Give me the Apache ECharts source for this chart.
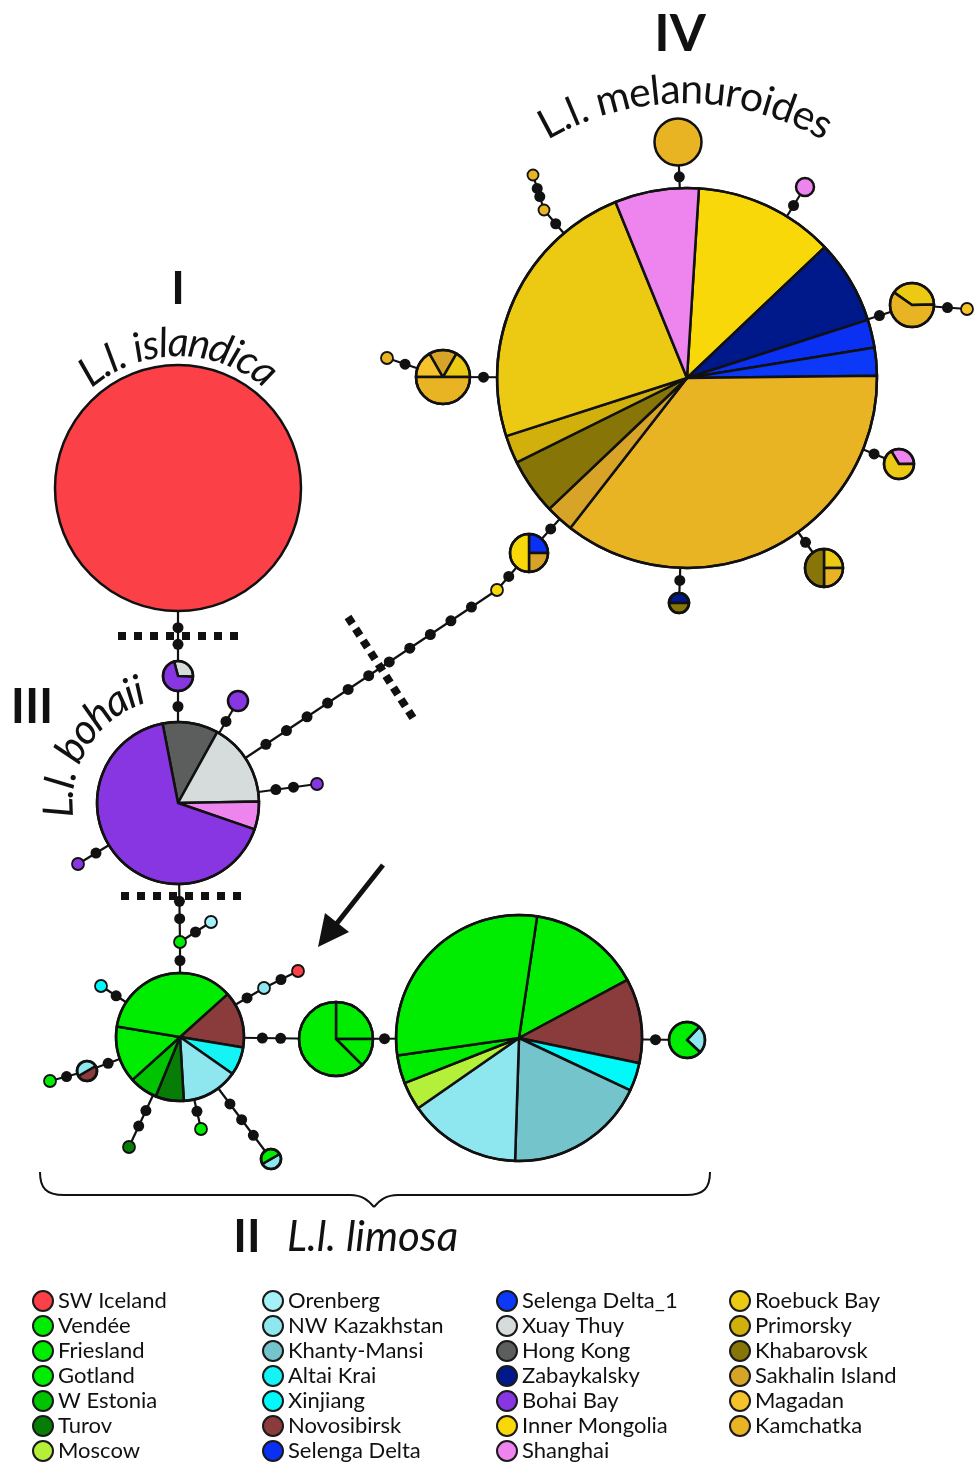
<!DOCTYPE html>
<html>
<head>
<meta charset="utf-8">
<script src="https://cdn.jsdelivr.net/npm/echarts@6/dist/echarts.min.js"></script>
<style>
  html, body { margin: 0; padding: 0; background: #ffffff; }
  #chart { width: 974px; height: 1464px; }
</style>
</head>
<body>
<div id="chart"></div>
<script>
// Sampling regions and their colours
const regions = [
  'SW Iceland', 'Vendée', 'Friesland', 'Gotland', 'W Estonia', 'Turov', 'Moscow',
  'Orenberg', 'NW Kazakhstan', 'Khanty-Mansi', 'Altai Krai', 'Xinjiang', 'Novosibirsk', 'Selenga Delta',
  'Selenga Delta_1', 'Xuay Thuy', 'Hong Kong', 'Zabaykalsky', 'Bohai Bay', 'Inner Mongolia', 'Shanghai',
  'Roebuck Bay', 'Primorsky', 'Khabarovsk', 'Sakhalin Island', 'Magadan', 'Kamchatka'
];
const regionColors = [
  '#fb4147', '#00ec00', '#00ec00', '#00ec00', '#00c400', '#077d07', '#b4f03a',
  '#a4f2f8', '#8ee6ee', '#74c4cc', '#14f4f4', '#00fafa', '#8a3c3c', '#0a30f4',
  '#0c38f8', '#d6dcdc', '#5c5e5e', '#00198a', '#8836e2', '#f8d808', '#ee84ee',
  '#ecca14', '#d2b00c', '#877507', '#d8a428', '#f6c22c', '#e8b424'
];

// Haplotype layout (network coordinates) and sizes
const nodeX = [178, 178, 178, 238, 317, 78, 180, 211, 180, 101, 264, 298, 87, 50, 129, 201, 271, 336, 519, 687,
               687, 678, 544, 533, 805, 912, 967, 899, 824, 679, 529, 497, 443, 387];
const nodeY = [488, 676, 803, 701, 784, 864, 942, 922, 1037, 986, 988, 971, 1071, 1081, 1147, 1129, 1159, 1039, 1038, 1040,
               378, 142, 210, 175, 187, 305, 309, 464, 568, 603, 553, 590, 377, 358];
const nodeRadius = [123, 15, 81, 10, 6, 6, 6, 6, 64, 6, 6, 6, 10, 6, 6, 6, 10, 37, 123, 18,
                    190, 23.5, 5.5, 5.5, 9, 22, 6, 15, 19, 10, 19, 6, 27, 6];
// first slice starts at this angle (degrees, clockwise from 12 o'clock)
const nodeStart = [0, -15, -11, 0, 0, 0, 0, 0, 48, 0, 0, 0, 60, 0, 0, 0, 60, 0, 8.5, 43,
                   3.6, 0, 0, 0, 0, 305, 0, -31, 0, -90, 0, 0, 270, 0];
// haplotype composition: [region index, individuals]
const nodeSlices = [
  [[0, 1]],
  [[15, 3], [18, 7]],
  [[16, 4], [15, 6], [20, 2], [18, 24]],
  [[18, 1]],
  [[18, 1]],
  [[18, 1]],
  [[1, 1]],
  [[7, 1]],
  [[12, 2], [10, 1], [8, 2], [5, 1], [4, 1], [2, 2], [1, 5]],
  [[11, 1]],
  [[8, 1]],
  [[0, 1]],
  [[12, 1], [8, 1]],
  [[1, 1]],
  [[5, 1]],
  [[3, 1]],
  [[8, 1], [1, 1]],
  [[1, 2], [2, 1], [3, 5]],
  [[1, 4], [12, 3], [11, 1], [9, 5], [8, 4], [6, 1], [3, 1], [2, 8]],
  [[8, 1], [1, 3]],
  [[19, 5], [17, 3], [13, 1], [14, 1], [26, 15], [24, 1], [23, 2], [22, 1], [21, 10], [20, 3]],
  [[26, 1]],
  [[26, 1]],
  [[26, 1]],
  [[20, 1]],
  [[21, 2], [26, 3]],
  [[25, 1]],
  [[20, 1], [21, 2]],
  [[21, 1], [26, 1], [23, 2]],
  [[17, 1], [23, 1]],
  [[13, 1], [24, 1], [19, 2]],
  [[19, 1]],
  [[25, 1], [24, 1], [21, 1], [26, 3]],
  [[26, 1]]
];
// network edges: [from, to, missing (median) haplotypes]
const links = [
  [0, 1, 2], [1, 2, 1], [2, 3, 1], [2, 4, 2], [2, 5, 1], [2, 31, 11], [31, 30, 1], [30, 20, 1],
  [2, 6, 2], [6, 7, 1], [6, 8, 1], [8, 9, 1], [8, 10, 1], [10, 11, 1], [8, 12, 1], [12, 13, 1],
  [8, 14, 2], [8, 15, 1], [8, 16, 3], [8, 17, 2], [17, 18, 1], [18, 19, 1],
  [20, 21, 1], [20, 22, 1], [22, 23, 2], [20, 24, 1], [20, 25, 1], [25, 26, 1], [20, 27, 1],
  [20, 28, 1], [20, 29, 1], [20, 32, 1], [32, 33, 1]
];
const legendColumns = [[0, 7], [7, 14], [14, 21], [21, 27]];

const FONT = 'Lato';
const INK = '#111111';
const rad = d => d * Math.PI / 180;

function renderLink(params, api) {
  const k = api.value(2);
  const [a, b, n] = links[k];
  const pa = api.coord([nodeX[a], nodeY[a]]);
  const pb = api.coord([nodeX[b], nodeY[b]]);
  const ra = api.size([nodeRadius[a], 0])[0];
  const rb = api.size([nodeRadius[b], 0])[0];
  const dx = pb[0] - pa[0], dy = pb[1] - pa[1];
  const d = Math.hypot(dx, dy);
  const ux = dx / d, uy = dy / d;
  const children = [{
    type: 'line',
    shape: { x1: pa[0], y1: pa[1], x2: pb[0], y2: pb[1] },
    style: { stroke: INK, lineWidth: 2.2 }
  }];
  const gap = d - ra - rb;
  for (let j = 1; j <= n; j++) {
    const t = ra + gap * j / (n + 1);
    children.push({
      type: 'circle',
      shape: { cx: pa[0] + ux * t, cy: pa[1] + uy * t, r: 5.5 },
      style: { fill: INK }
    });
  }
  return { type: 'group', children };
}

function renderNode(params, api) {
  const i = api.value(2);
  const c = api.coord([nodeX[i], nodeY[i]]);
  const r = api.size([nodeRadius[i], 0])[0];
  const slices = nodeSlices[i];
  const lw = r > 8 ? 2.5 : 1.8;
  const children = [];
  if (slices.length === 1) {
    children.push({
      type: 'circle',
      shape: { cx: c[0], cy: c[1], r },
      style: { fill: regionColors[slices[0][0]], stroke: INK, lineWidth: lw }
    });
  } else {
    const total = slices.reduce((s, d) => s + d[1], 0);
    let a = nodeStart[i];
    slices.forEach(([reg, n]) => {
      const b = a + n / total * 360;
      children.push({
        type: 'sector',
        shape: { cx: c[0], cy: c[1], r0: 0, r, startAngle: rad(a - 90), endAngle: rad(b - 90), clockwise: true },
        style: { fill: regionColors[reg], stroke: INK, lineWidth: lw, lineJoin: 'round' }
      });
      a = b;
    });
    children.push({
      type: 'circle',
      shape: { cx: c[0], cy: c[1], r },
      style: { fill: 'none', stroke: INK, lineWidth: lw }
    });
  }
  return { type: 'group', children };
}

// text set along a circular arc, letters upright pointing away from the centre
const measureCtx = document.createElement('canvas').getContext('2d');
function arcText(str, cx, cy, R, midDeg, size, style) {
  const font = `${style} ${size}px ${FONT}`;
  measureCtx.font = font;
  const total = measureCtx.measureText(str).width;
  const start = rad(midDeg) - total / R / 2;
  const els = [];
  let acc = 0;
  for (const ch of str) {
    const w = measureCtx.measureText(ch).width;
    const th = start + (acc + w / 2) / R;
    acc += w;
    els.push({
      type: 'text',
      x: cx + R * Math.sin(th),
      y: cy - R * Math.cos(th),
      rotation: -th,
      z: 20,
      style: { text: ch, font, fill: INK, textAlign: 'center', textVerticalAlign: 'middle' }
    });
  }
  return els;
}

const dashStyle = { stroke: INK, lineWidth: 8, lineDash: [8, 8], lineCap: 'butt' };
const braceStyle = { fill: 'none', stroke: INK, lineWidth: 2 };

const graphics = [
  // clade break markers
  { type: 'line', z: 15, shape: { x1: 118, y1: 636, x2: 238, y2: 636 }, style: dashStyle },
  { type: 'line', z: 15, shape: { x1: 121, y1: 896, x2: 241, y2: 896 }, style: dashStyle },
  { type: 'line', z: 15, shape: { x1: 348, y1: 617, x2: 413, y2: 718 }, style: Object.assign({}, dashStyle, { lineDash: [8, 6] }) },
  // arrow
  { type: 'line', z: 15, shape: { x1: 383, y1: 865, x2: 334, y2: 927 }, style: { stroke: INK, lineWidth: 5 } },
  { type: 'polygon', z: 15, shape: { points: [[318, 947], [349, 932], [325, 913]] }, style: { fill: INK } },
  // brace under clade II
  { type: 'bezierCurve', z: 15, shape: { x1: 40, y1: 1172, cpx1: 40, cpy1: 1188, cpx2: 46, cpy2: 1195, x2: 64, y2: 1195 }, style: braceStyle },
  { type: 'line', z: 15, shape: { x1: 64, y1: 1195, x2: 350, y2: 1195 }, style: braceStyle },
  { type: 'bezierCurve', z: 15, shape: { x1: 350, y1: 1195, cpx1: 362, cpy1: 1195, cpx2: 368, cpy2: 1200, x2: 374, y2: 1207 }, style: braceStyle },
  { type: 'bezierCurve', z: 15, shape: { x1: 374, y1: 1207, cpx1: 380, cpy1: 1200, cpx2: 386, cpy2: 1195, x2: 398, y2: 1195 }, style: braceStyle },
  { type: 'line', z: 15, shape: { x1: 398, y1: 1195, x2: 686, y2: 1195 }, style: braceStyle },
  { type: 'bezierCurve', z: 15, shape: { x1: 686, y1: 1195, cpx1: 704, cpy1: 1195, cpx2: 710, cpy2: 1188, x2: 710, y2: 1172 }, style: braceStyle },
  // clade numerals
  { type: 'text', z: 20, x: 680, y: 34, style: { text: 'IV', font: `bold 52px ${FONT}`, fill: INK, textAlign: 'center', textVerticalAlign: 'middle' } },
  { type: 'text', z: 20, x: 178, y: 289, style: { text: 'I', font: `bold 46px ${FONT}`, fill: INK, textAlign: 'center', textVerticalAlign: 'middle' } },
  { type: 'text', z: 20, x: 32, y: 708, style: { text: 'III', font: `bold 48px ${FONT}`, fill: INK, textAlign: 'center', textVerticalAlign: 'middle' } },
  { type: 'text', z: 20, x: 247, y: 1237, style: { text: 'II', font: `bold 46px ${FONT}`, fill: INK, textAlign: 'center', textVerticalAlign: 'middle' } },
  { type: 'text', z: 20, x: 287, y: 1237, style: { text: 'L.l. limosa', font: `italic 42px ${FONT}`, fill: INK, textAlign: 'left', textVerticalAlign: 'middle' } }
].concat(
  arcText('L.l. melanuroides', 685, 378, 288, 0, 41, 'normal'),
  arcText('L.l. islandica', 178, 488, 145, 0, 41, 'italic'),
  arcText('L.l. bohaii', 178, 803, 119, -57, 42, 'italic')
);

const legendSeries = regions.map((name, i) => ({
  name, type: 'scatter', data: [], itemStyle: { color: regionColors[i], opacity: 1 }
}));

const legends = legendColumns.map(([s, e], c) => ({
  orient: 'vertical',
  left: [32, 262, 496, 729][c],
  top: 1290,
  padding: 0,
  itemWidth: 20,
  itemHeight: 20,
  itemGap: 3,
  icon: 'circle',
  selectedMode: false,
  data: regions.slice(s, e),
  itemStyle: { borderColor: '#1a1a1a', borderWidth: 2, opacity: 1 },
  textStyle: { fontFamily: FONT, fontSize: 22, color: INK, lineHeight: 20, padding: 0 }
}));

const chart = echarts.init(document.getElementById('chart'), null, { renderer: 'canvas' });
chart.setOption({
  animation: false,
  backgroundColor: '#ffffff',
  grid: { left: 0, right: 0, top: 0, bottom: 0 },
  xAxis: { type: 'value', min: 0, max: 974, show: false },
  yAxis: { type: 'value', min: 0, max: 1464, inverse: true, show: false },
  legend: legends,
  graphic: graphics,
  series: [
    {
      type: 'custom',
      name: 'edges',
      z: 1,
      renderItem: renderLink,
      encode: { x: 0, y: 1 },
      data: links.map((l, k) => [nodeX[l[0]], nodeY[l[0]], k]),
      silent: true
    },
    {
      type: 'custom',
      name: 'haplotypes',
      z: 2,
      renderItem: renderNode,
      encode: { x: 0, y: 1 },
      data: nodeX.map((x, i) => [x, nodeY[i], i]),
      silent: true
    }
  ].concat(legendSeries)
});
</script>
</body>
</html>
